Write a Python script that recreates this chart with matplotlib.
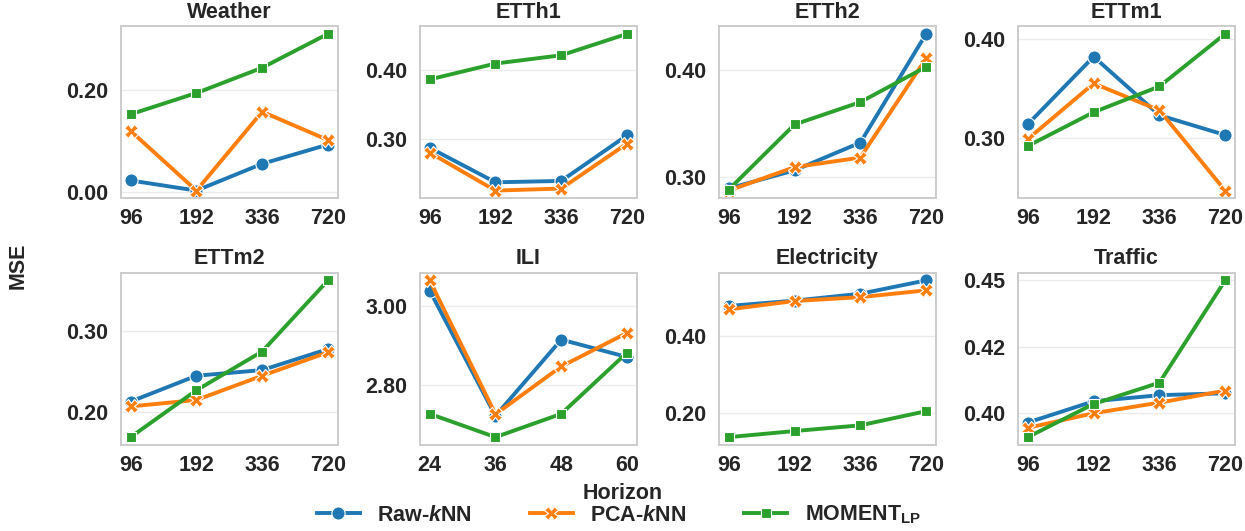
import matplotlib
matplotlib.use("Agg")
import matplotlib.pyplot as plt
from matplotlib.ticker import MaxNLocator, FormatStrFormatter
from matplotlib.lines import Line2D

plt.rcParams['font.family'] = ['Liberation Sans', 'DejaVu Sans']
plt.rcParams['font.weight'] = 'bold'
plt.rcParams['text.color'] = '#262626'
plt.rcParams['xtick.color'] = '#262626'
plt.rcParams['ytick.color'] = '#262626'
plt.rcParams['mathtext.fontset'] = 'custom'
plt.rcParams['mathtext.rm'] = 'Liberation Sans'
plt.rcParams['mathtext.it'] = 'Liberation Sans:italic'
plt.rcParams['mathtext.bf'] = 'Liberation Sans:bold'

# data
datasets = ['Weather', 'ETTh1', 'ETTh2', 'ETTm1',
            'ETTm2', 'ILI', 'Electricity', 'Traffic']
horizons = ['96', '192', '336', '720']
horizons_ili = ['24', '36', '48', '60']

raw_knn = {
    'Weather': [0.022, 0.002, 0.055, 0.093],
    'ETTh1': [0.288, 0.238, 0.240, 0.306],
    'ETTh2': [0.289, 0.306, 0.332, 0.434],
    'ETTm1': [0.314, 0.382, 0.323, 0.303],
    'ETTm2': [0.213, 0.245, 0.252, 0.278],
    'ILI': [3.039, 2.722, 2.915, 2.871],
    'Electricity': [0.480, 0.494, 0.512, 0.547],
    'Traffic': [0.3965, 0.4045, 0.4068, 0.4075],
}
pca_knn = {
    'Weather': [0.120, 0.002, 0.158, 0.102],
    'ETTh1': [0.281, 0.226, 0.229, 0.294],
    'ETTh2': [0.287, 0.309, 0.318, 0.411],
    'ETTm1': [0.299, 0.355, 0.328, 0.247],
    'ETTm2': [0.207, 0.215, 0.245, 0.274],
    'ILI': [3.065, 2.726, 2.847, 2.932],
    'Electricity': [0.471, 0.493, 0.503, 0.521],
    'Traffic': [0.3945, 0.400, 0.404, 0.4085],
}
moment_lp = {
    'Weather': [0.153, 0.195, 0.245, 0.312],
    'ETTh1': [0.387, 0.410, 0.422, 0.453],
    'ETTh2': [0.288, 0.349, 0.370, 0.403],
    'ETTm1': [0.292, 0.326, 0.352, 0.405],
    'ETTm2': [0.169, 0.227, 0.275, 0.363],
    'ILI': [2.727, 2.668, 2.727, 2.882],
    'Electricity': [0.136, 0.152, 0.167, 0.204],
    'Traffic': [0.391, 0.4035, 0.4115, 0.450],
}

blue, orange, green = '#1f77b4', '#ff7f0e', '#2ca02c'
styles = [
    (raw_knn, blue, 'o', 9.5),
    (pca_knn, orange, 'X', 10),
    (moment_lp, green, 's', 7),
]

fig, axes = plt.subplots(2, 4, figsize=(12.45, 5.31), dpi=100)
fig.subplots_adjust(left=0.097, right=0.992, top=0.951, bottom=0.162,
                    wspace=0.378, hspace=0.43)

for ax, name in zip(axes.flat, datasets):
    labels = horizons_ili if name == 'ILI' else horizons
    x = list(range(len(labels)))
    for series, color, marker, ms in styles:
        ax.plot(x, series[name], color=color, lw=2.8, marker=marker,
                markersize=ms, markeredgecolor='white', markeredgewidth=0.8)
    ax.set_title(name, fontsize=15.5, fontweight='bold', pad=6)
    ax.set_xticks(x)
    ax.set_xticklabels(labels)
    ax.set_xlim(-0.15, 3.15)
    ax.yaxis.set_major_locator(MaxNLocator(nbins=3, steps=[1, 2, 2.5, 5, 10]))
    ax.yaxis.set_major_formatter(FormatStrFormatter('%.2f'))
    ax.tick_params(axis='both', length=0, labelsize=15.5)
    ax.tick_params(axis='y', pad=9)
    ax.tick_params(axis='x', pad=7)
    ax.grid(axis='y', color='#ebebeb', lw=1.0)
    ax.set_axisbelow(True)
    for sp in ax.spines.values():
        sp.set_color('#cccccc')
        sp.set_linewidth(1.4)

fig.supylabel('MSE', fontsize=15.5, fontweight='bold', x=0.006)
fig.supxlabel('Horizon', fontsize=15.5, fontweight='bold', y=0.05)

handles = [
    Line2D([], [], color=blue, lw=2.8, marker='o', markersize=9.5,
           markeredgecolor='white', markeredgewidth=0.8),
    Line2D([], [], color=orange, lw=2.8, marker='X', markersize=10,
           markeredgecolor='white', markeredgewidth=0.8),
    Line2D([], [], color=green, lw=2.8, marker='s', markersize=7,
           markeredgecolor='white', markeredgewidth=0.8),
]
legend_labels = [r'Raw-$k$NN', r'PCA-$k$NN', r'MOMENT$_{\mathrm{LP}}$']
fig.legend(handles, legend_labels, loc='lower center', ncol=3,
           bbox_to_anchor=(0.497, -0.028), frameon=False, fontsize=15.5,
           handlelength=2.0, columnspacing=2.7, handletextpad=0.8)

fig.savefig('out.png', dpi=100)
